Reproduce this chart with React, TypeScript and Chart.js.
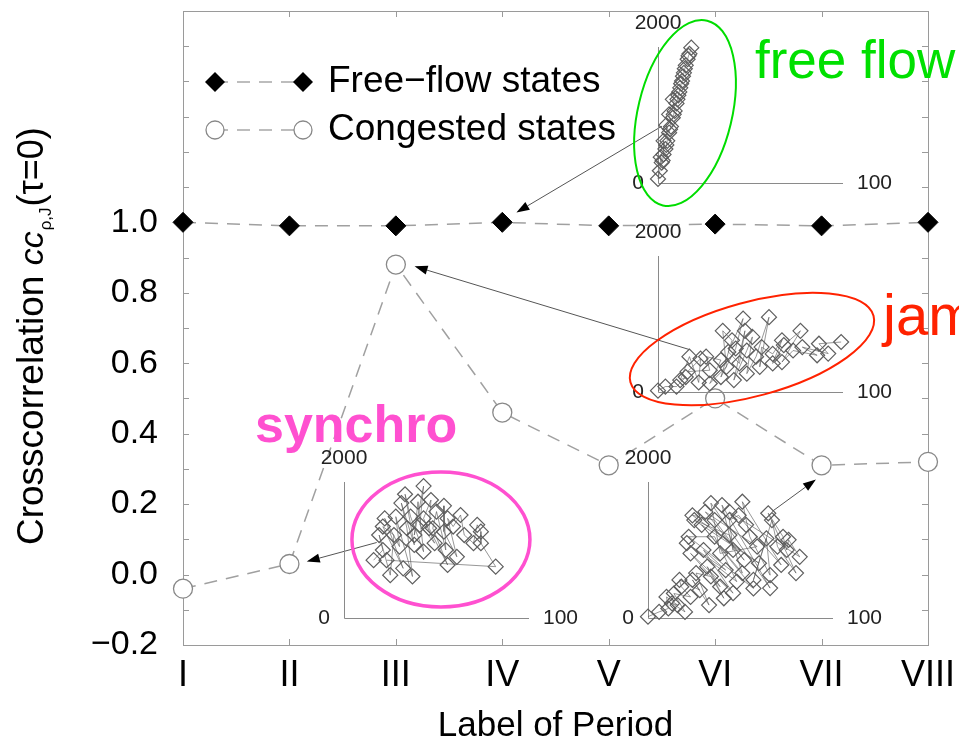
import React, { useEffect, useRef } from 'react';
import { Chart, registerables } from 'chart.js';

Chart.register(...registerables);

const FONT = '"Liberation Sans", Arial, Helvetica, sans-serif';

// ---------- main chart data ----------
const periodLabels = ['I', 'II', 'III', 'IV', 'V', 'VI', 'VII', 'VIII'];
const periodIndex = [1, 2, 3, 4, 5, 6, 7, 8];
const freeFlowCC = [1.0, 0.99, 0.99, 1.0, 0.99, 0.995, 0.99, 1.0];
const congestedCC = [-0.04, 0.03, 0.88, 0.46, 0.31, 0.5, 0.31, 0.32];
const yLabelValues = [-0.2, 0.0, 0.2, 0.4, 0.6, 0.8, 1.0];
const seriesNames = ['Free\u2212flow states', 'Congested states'];
const insetTickLabels = ['0', '2000', '100'];

// ---------- inset data (density, flow) ----------
const ffDensity = [0, 1, 1.5, 2, 2.5, 3, 3, 4, 4.5, 5, 4.5, 6, 6.5, 7, 6, 8, 8.5, 9, 8, 10, 10.5, 11, 11.5, 12, 12.5, 13, 13.5, 14, 14.5, 15, 16, 16.5, 17, 18];
const ffFlow = [60, 180, 380, 300, 330, 420, 620, 500, 560, 620, 850, 740, 790, 830, 1010, 960, 1010, 1060, 1230, 1170, 1230, 1290, 1340, 1400, 1460, 1500, 1570, 1620, 1680, 1730, 1820, 1870, 1900, 1990];

const jamDensity = [0, 4, 10, 15, 12, 17, 22, 23, 16, 28, 26, 34, 28, 37, 35, 40, 34, 42, 46, 38, 44, 47, 41, 48, 51, 48, 53, 60, 55, 56, 62, 67, 62, 68, 77, 67, 73, 86, 78, 92, 87, 99];
const jamFlow = [20, 80, 80, 220, 175, 520, 140, 490, 300, 320, 520, 470, 125, 370, 900, 760, 220, 640, 1080, 590, 420, 900, 175, 610, 810, 270, 520, 1100, 370, 660, 560, 760, 420, 690, 900, 440, 610, 540, 660, 565, 710, 735];

const synDensity = [16, 21, 19, 25, 27, 21, 32, 22, 30, 28, 37, 34, 31, 38, 33, 36, 43, 40, 38, 43, 41, 49, 43, 47, 46, 56, 48, 50, 55, 54, 54, 61, 56, 59, 63, 65, 70, 72, 74, 74, 82, 23];
const synFlow = [850, 1000, 1220, 630, 1220, 1345, 730, 1465, 1050, 1490, 610, 1320, 1690, 1075, 1820, 1490, 975, 1710, 1220, 1940, 1370, 1100, 1465, 1735, 1320, 780, 1320, 1565, 1000, 1650, 1270, 900, 1465, 1345, 1515, 1220, 1100, 1370, 1270, 1100, 755, 850];

const congDensity = [0, 6, 11, 10, 16, 13, 20, 14, 23, 18, 17, 28, 24, 33, 26, 34, 41, 32, 39, 23, 46, 30, 42, 21, 48, 36, 22, 57, 29, 51, 44, 25, 60, 24, 36, 52, 31, 59, 39, 34, 66, 40, 46, 44, 49, 53, 72, 51, 55, 66, 64, 57, 67, 70, 80, 65, 73, 75, 76, 82, 44];
const congFlow = [20, 90, 140, 310, 190, 215, 90, 360, 310, 460, 560, 410, 560, 190, 660, 610, 290, 755, 460, 950, 365, 1000, 705, 1100, 535, 1195, 1195, 435, 1370, 660, 1220, 1440, 805, 1510, 1440, 850, 1560, 1050, 950, 1690, 440, 1660, 1000, 1440, 1510, 1370, 780, 1710, 1195, 630, 1170, 560, 1440, 1050, 660, 1540, 1195, 1000, 1150, 900, 1560];

// ---------- layout ----------
const W = 959;
const H = 742;
const INSET_LX = 185;
const INSET_LY = 136;
const PAD = 140;

const insets: any[] = [
  {
    id: 'free', xs: ffDensity, ys: ffFlow, ox: 658, oy: 183,
    ellipse: { cx: 14.6, cy: 1029, rx: 47, ry: 95, rot: 13.5, color: '#00dd00', width: 2 },
    label: { text: 'free flow', dx: 97, dy: -105, color: '#00e000', font: `53px ${FONT}` },
  },
  {
    id: 'jam', xs: jamDensity, ys: jamFlow, ox: 658, oy: 392,
    ellipse: { cx: 50.8, cy: 632, rx: 126, ry: 47, rot: -15.3, color: '#ff2200', width: 2 },
    label: { text: 'jam', dx: 225, dy: -57, color: '#ff2200', font: `58px ${FONT}` },
  },
  {
    id: 'syn', xs: synDensity, ys: synFlow, ox: 344, oy: 618,
    ellipse: { cx: 52.4, cy: 1154, rx: 89, ry: 67.5, rot: 0, color: '#ff50d0', width: 3.5 },
    label: { text: 'synchro', dx: -89, dy: -176, color: '#ff50d0', font: `bold 52px ${FONT}` },
  },
  { id: 'cong', xs: congDensity, ys: congFlow, ox: 648, oy: 618 },
];

// arrows in main-chart value coordinates [x0, y0, x1(head), y1(head)]
const arrowDefs = [
  [5.5, 1.273, 4.133, 1.028],
  [5.756, 0.639, 3.176, 0.875],
  [2.82, 0.091, 2.163, 0.037],
  [6.535, 0.179, 6.947, 0.27],
];

function drawDiamond(ctx: any, x: number, y: number, r: number) {
  ctx.beginPath();
  ctx.moveTo(x, y - r);
  ctx.lineTo(x + r, y);
  ctx.lineTo(x, y + r);
  ctx.lineTo(x - r, y);
  ctx.closePath();
}

const mainDecor = {
  id: 'mainDecor',
  beforeDatasetsDraw(chart: any) {
    const { ctx, chartArea } = chart;
    const { left, right, top, bottom } = chartArea;
    const xs = chart.scales.x;
    const ys = chart.scales.y;
    ctx.save();
    ctx.strokeStyle = '#9a9a9a';
    ctx.lineWidth = 1;
    ctx.strokeRect(Math.round(left) + 0.5, Math.round(top) + 0.5, Math.round(right - left), Math.round(bottom - top));
    ctx.beginPath();
    for (const t of xs.ticks) {
      const px = Math.round(xs.getPixelForValue(t.value)) + 0.5;
      ctx.moveTo(px, bottom);
      ctx.lineTo(px, bottom - 6);
      ctx.moveTo(px, top);
      ctx.lineTo(px, top + 6);
    }
    for (const t of ys.ticks) {
      const py = Math.round(ys.getPixelForValue(t.value)) + 0.5;
      ctx.moveTo(left, py);
      ctx.lineTo(left + 6, py);
      ctx.moveTo(right, py);
      ctx.lineTo(right - 6, py);
    }
    ctx.stroke();
    ctx.restore();
  },
  afterDatasetsDraw(chart: any) {
    const { ctx, chartArea } = chart;
    const { left, right, top } = chartArea;
    const xs = chart.scales.x;
    const ys = chart.scales.y;
    ctx.save();

    // legend
    const lx1 = left + 32, lx2 = left + 120, tx = left + 145;
    const ly1 = top + 71, ly2 = top + 119;
    ctx.strokeStyle = '#a8a8a8';
    ctx.lineWidth = 1.5;
    ctx.setLineDash([13, 9]);
    ctx.beginPath();
    ctx.moveTo(lx1, ly1); ctx.lineTo(lx2, ly1);
    ctx.moveTo(lx1, ly2); ctx.lineTo(lx2, ly2);
    ctx.stroke();
    ctx.setLineDash([]);
    ctx.fillStyle = '#000';
    for (const lx of [lx1, lx2]) {
      drawDiamond(ctx, lx, ly1, 10);
      ctx.fill();
      ctx.beginPath();
      ctx.arc(lx, ly2, 9, 0, Math.PI * 2);
      ctx.fillStyle = '#fff';
      ctx.fill();
      ctx.strokeStyle = '#888';
      ctx.lineWidth = 1.3;
      ctx.stroke();
      ctx.fillStyle = '#000';
    }
    ctx.font = `37px ${FONT}`;
    ctx.textBaseline = 'middle';
    ctx.textAlign = 'left';
    ctx.fillText(seriesNames[0], tx, ly1);
    ctx.fillText(seriesNames[1], tx, ly2);

    // arrows
    for (const a of arrowDefs) {
      const x0 = xs.getPixelForValue(a[0]);
      const y0 = ys.getPixelForValue(a[1]);
      const x1 = xs.getPixelForValue(a[2]);
      const y1 = ys.getPixelForValue(a[3]);
      const ang = Math.atan2(y1 - y0, x1 - x0);
      const hl = 13, hw = 4.5;
      const bx = x1 - hl * Math.cos(ang), by = y1 - hl * Math.sin(ang);
      ctx.strokeStyle = '#555';
      ctx.lineWidth = 1;
      ctx.beginPath();
      ctx.moveTo(x0, y0);
      ctx.lineTo(bx, by);
      ctx.stroke();
      ctx.fillStyle = '#000';
      ctx.beginPath();
      ctx.moveTo(x1, y1);
      ctx.lineTo(bx + hw * Math.sin(ang), by - hw * Math.cos(ang));
      ctx.lineTo(bx - hw * Math.sin(ang), by + hw * Math.cos(ang));
      ctx.closePath();
      ctx.fill();
    }

    // x title
    ctx.fillStyle = '#000';
    ctx.textAlign = 'center';
    ctx.textBaseline = 'alphabetic';
    ctx.font = `35px ${FONT}`;
    ctx.fillText('Label of Period', (left + right) / 2, 736);

    // y title (rotated, with subscript)
    ctx.translate(43, 545);
    ctx.rotate(-Math.PI / 2);
    ctx.textAlign = 'left';
    let p = 0;
    ctx.font = `37px ${FONT}`;
    ctx.fillText('Crosscorrelation ', p, 0);
    p += ctx.measureText('Crosscorrelation ').width;
    ctx.font = `italic 34px ${FONT}`;
    ctx.fillText('cc', p, 0);
    p += ctx.measureText('cc').width + 1;
    ctx.font = `17px ${FONT}`;
    ctx.fillText('\u03c1,J', p, 8);
    p += ctx.measureText('\u03c1,J').width + 1;
    ctx.font = `36px ${FONT}`;
    ctx.fillText('(\u03c4=0)', p, 0);
    ctx.restore();
  },
};

function MainChart() {
  const ref = useRef<HTMLCanvasElement>(null);
  useEffect(() => {
    const chart = new Chart(ref.current as HTMLCanvasElement, {
      type: 'line',
      data: {
        datasets: [
          {
            label: seriesNames[0],
            data: periodIndex.map((x, i) => ({ x, y: freeFlowCC[i] })),
            borderColor: '#a0a0a0',
            borderWidth: 1.5,
            borderDash: [13, 9],
            pointStyle: 'rectRot',
            pointRadius: 10,
            pointBackgroundColor: '#000',
            pointBorderColor: '#000',
            pointBorderWidth: 1,
            fill: false,
            tension: 0,
            clip: false,
          },
          {
            label: seriesNames[1],
            data: periodIndex.map((x, i) => ({ x, y: congestedCC[i] })),
            borderColor: '#a0a0a0',
            borderWidth: 1.5,
            borderDash: [13, 9],
            pointStyle: 'circle',
            pointRadius: 9.5,
            pointBackgroundColor: '#fff',
            pointBorderColor: '#888',
            pointBorderWidth: 1.3,
            fill: false,
            tension: 0,
            clip: false,
          },
        ],
      } as any,
      options: {
        responsive: false,
        animation: false,
        devicePixelRatio: 1,
        events: [],
        layout: { padding: { top: 11, right: 31, left: 0, bottom: 0 } },
        plugins: { legend: { display: false }, tooltip: { enabled: false } },
        scales: {
          x: {
            type: 'linear',
            min: 1,
            max: 8,
            afterFit: (s: any) => { s.height = 97; s.paddingLeft = 0; s.paddingRight = 0; },
            grid: { display: false, drawTicks: false },
            border: { display: false },
            ticks: {
              stepSize: 1,
              autoSkip: false,
              maxRotation: 0,
              padding: 9,
              color: '#000',
              font: { family: FONT, size: 36 },
              callback: (v: any) => periodLabels[Math.round(v) - 1] ?? '',
            },
          },
          y: {
            type: 'linear',
            min: -0.2,
            max: 1.6,
            afterFit: (s: any) => { s.width = 183; s.paddingTop = 0; s.paddingBottom = 0; },
            grid: { display: false, drawTicks: false },
            border: { display: false },
            ticks: {
              stepSize: 0.1,
              autoSkip: false,
              padding: 25,
              color: '#000',
              font: { family: FONT, size: 34 },
              callback: (v: any) => {
                const r = Math.round(v * 10) / 10;
                if (!yLabelValues.some((t) => Math.abs(t - r) < 1e-6)) return '';
                return r < 0 ? '\u2212' + Math.abs(r).toFixed(1) : r.toFixed(1);
              },
            },
          },
        },
      } as any,
      plugins: [mainDecor],
    });
    return () => chart.destroy();
  }, []);
  return <canvas ref={ref} width={W} height={H} style={{ position: 'absolute', left: 0, top: 0, display: 'block' }} />;
}

function makeInsetDecor(spec: any) {
  return {
    id: 'insetDecor',
    beforeDatasetsDraw(chart: any) {
      const { ctx, chartArea } = chart;
      const { left, right, top, bottom } = chartArea;
      ctx.save();
      ctx.strokeStyle = '#8a8a8a';
      ctx.lineWidth = 1;
      ctx.beginPath();
      ctx.moveTo(Math.round(left) + 0.5, top);
      ctx.lineTo(Math.round(left) + 0.5, Math.round(bottom) + 0.5);
      ctx.lineTo(right, Math.round(bottom) + 0.5);
      ctx.stroke();
      ctx.fillStyle = '#222';
      ctx.font = `21px ${FONT}`;
      ctx.textBaseline = 'middle';
      ctx.textAlign = 'right';
      ctx.fillText(insetTickLabels[0], left - 14, bottom);
      ctx.textAlign = 'center';
      ctx.fillText(insetTickLabels[1], left, top - 24);
      ctx.textAlign = 'left';
      ctx.fillText(insetTickLabels[2], right + 14, bottom);
      ctx.restore();
    },
    afterDatasetsDraw(chart: any) {
      const { ctx, chartArea } = chart;
      const xs = chart.scales.x;
      const ys = chart.scales.y;
      ctx.save();
      if (spec.ellipse) {
        const e = spec.ellipse;
        ctx.strokeStyle = e.color;
        ctx.lineWidth = e.width;
        ctx.beginPath();
        ctx.ellipse(xs.getPixelForValue(e.cx), ys.getPixelForValue(e.cy), e.rx, e.ry, (e.rot * Math.PI) / 180, 0, Math.PI * 2);
        ctx.stroke();
      }
      if (spec.label) {
        const l = spec.label;
        ctx.fillStyle = l.color;
        ctx.font = l.font;
        ctx.textAlign = 'left';
        ctx.textBaseline = 'alphabetic';
        ctx.fillText(l.text, chartArea.left + l.dx, chartArea.bottom + l.dy);
      }
      ctx.restore();
    },
  };
}

function InsetChart({ spec }: { spec: any }) {
  const ref = useRef<HTMLCanvasElement>(null);
  useEffect(() => {
    const chart = new Chart(ref.current as HTMLCanvasElement, {
      type: 'scatter',
      data: {
        datasets: [
          {
            data: spec.xs.map((x: number, i: number) => ({ x, y: spec.ys[i] })),
            showLine: true,
            borderColor: 'rgba(80,80,80,0.75)',
            borderWidth: 0.8,
            pointStyle: 'rectRot',
            pointRadius: 7.5,
            pointBackgroundColor: 'rgba(255,255,255,0)',
            pointBorderColor: '#5e5e5e',
            pointBorderWidth: 1.2,
            clip: false,
          },
        ],
      } as any,
      options: {
        responsive: false,
        animation: false,
        devicePixelRatio: 1,
        events: [],
        layout: { padding: PAD },
        plugins: { legend: { display: false }, tooltip: { enabled: false } },
        scales: {
          x: { type: 'linear', min: 0, max: 100, display: false },
          y: { type: 'linear', min: 0, max: 2000, display: false },
        },
      } as any,
      plugins: [makeInsetDecor(spec)],
    });
    return () => chart.destroy();
  }, [spec]);
  return (
    <canvas
      ref={ref}
      width={INSET_LX + 2 * PAD}
      height={INSET_LY + 2 * PAD}
      style={{ position: 'absolute', left: spec.ox - PAD, top: spec.oy - INSET_LY - PAD, pointerEvents: 'none' }}
    />
  );
}

export default function App() {
  return (
    <div style={{ position: 'absolute', left: 0, top: 0, width: W, height: H, overflow: 'hidden', background: '#fff' }}>
      <MainChart />
      {insets.map((s) => (
        <InsetChart key={s.id} spec={s} />
      ))}
    </div>
  );
}
